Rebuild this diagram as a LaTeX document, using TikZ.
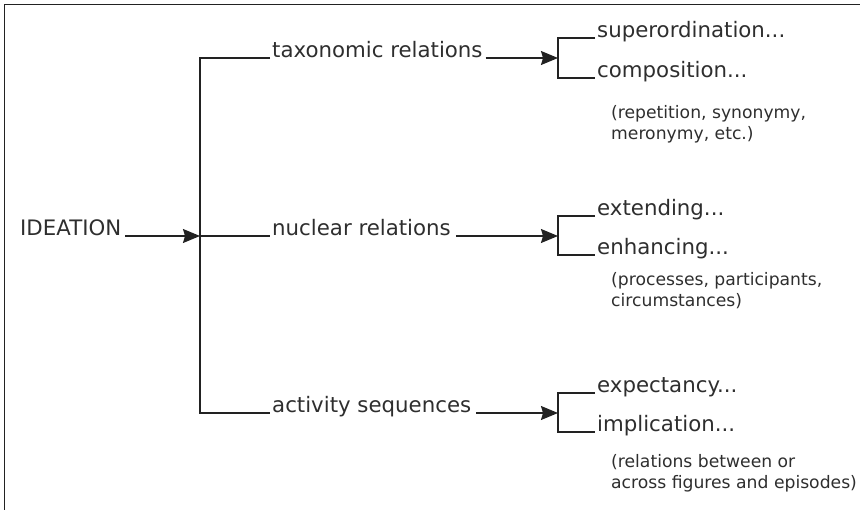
\documentclass[tikz,border=0pt]{standalone}
\usepackage{fontspec}
\setmainfont{DejaVu Sans}
\usepackage{tikz}
\usetikzlibrary{arrows.meta,positioning}

\definecolor{ink}{HTML}{222222}
\definecolor{txt}{HTML}{2E2E2E}

\tikzset{
  line/.style={draw=ink,line width=1.3pt},
  arr/.style={line,-{Stealth[length=17pt,width=14pt,inset=2pt]}},
  lbl/.style={font=\fontsize{21.3}{25}\selectfont,text=txt,anchor=base west,inner xsep=2pt,inner ysep=0pt},
  note/.style={font=\fontsize{17.2}{21}\selectfont,text=txt,anchor=base west,align=left,inner sep=0pt}
}

\begin{document}
\begin{tikzpicture}[x=1pt,y=-1pt]

  \useasboundingbox (0,0) rectangle (860,510);

  % frame (top and left only)
  \draw[ink,line width=1.3pt] (4.5,510) -- (4.5,4.5) -- (860,4.5);

  % root
  \node[lbl] (ideation) at (18,236) {IDEATION};
  \coordinate (hub) at (200,236);
  \draw[arr] (ideation.base east) ++(2,0) -- (hub);

  % first-level systems
  \node[lbl] (tax) at (270,58) {taxonomic relations};
  \node[lbl] (nuc) at (270,236) {nuclear relations};
  \node[lbl] (act) at (270,413) {activity sequences};

  \draw[line] (tax.base west) -| (hub) |- (act.base west);
  \draw[line] (hub) -- (nuc.base west);

  % forks
  \coordinate (taxfork) at (558,58);
  \coordinate (nucfork) at (558,236);
  \coordinate (actfork) at (558,413);

  \draw[arr] (tax.base east) ++(1,0) -- (taxfork);
  \draw[arr] (nuc.base east) ++(3,0) -- (nucfork);
  \draw[arr] (act.base east) ++(3,0) -- (actfork);

  % taxonomic relations
  \node[lbl] (super) at (595,38) {superordination...};
  \node[lbl] (compo) at (595,78) {composition...};
  \draw[line] (super.base west) -| (taxfork) |- (compo.base west);
  \node[note] (taxnote) at (611,140) {(repetition, synonymy,\\meronymy, etc.)};

  % nuclear relations
  \node[lbl] (extend) at (595,216) {extending...};
  \node[lbl] (enhance) at (595,255) {enhancing...};
  \draw[line] (extend.base west) -| (nucfork) |- (enhance.base west);
  \node[note] (nucnote) at (611,307) {(processes, participants,\\circumstances)};

  % activity sequences
  \node[lbl] (expect) at (595,393) {expectancy...};
  \node[lbl] (implic) at (595,432) {implication...};
  \draw[line] (expect.base west) -| (actfork) |- (implic.base west);
  \node[note] (actnote) at (611,489) {(relations between or\\across figures and episodes)};

\end{tikzpicture}
\end{document}
